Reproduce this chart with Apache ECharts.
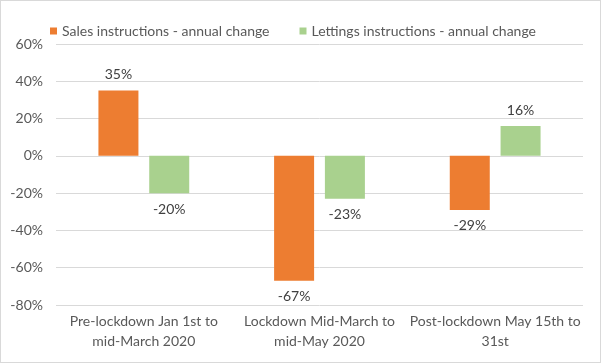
<!DOCTYPE html>
<html><head><meta charset="utf-8">
<script src="https://cdn.jsdelivr.net/npm/echarts@6/dist/echarts.min.js"></script>
<style>html,body{margin:0;padding:0;background:#fff}#c{width:599px;height:361px;border:1px solid #d9d9d9;}</style>
</head><body><div id="c"></div>
<script>
const categories = ["Pre-lockdown Jan 1st to\nmid-March 2020", "Lockdown Mid-March to\nmid-May 2020", "Post-lockdown May 15th to\n31st"];
const seriesNames = ["Sales instructions - annual change", "Lettings instructions - annual change"];
const salesValues = [35, -67, -29];
const lettingsValues = [-20, -23, 16];
const yTicks = {min: -80, max: 60, interval: 20};

const FONT = 'Lato';
const TXT = '#595959';
const chart = echarts.init(document.getElementById('c'));
const lbl = {show: true, formatter: p => p.value + '%', color: '#404040', fontFamily: FONT, fontSize: 14, distance: 9};
const mk = vals => vals.map(v => ({value: v, label: {position: v < 0 ? 'bottom' : 'top'}}));
chart.setOption({
  animation: false,
  textStyle: {fontFamily: FONT},
  legend: {top: 18, left: 44, itemWidth: 7, itemHeight: 7, itemGap: 30, icon: 'rect',
    textStyle: {color: TXT, fontFamily: FONT, fontSize: 14}, data: seriesNames},
  grid: {left: 55, right: 17, top: 43, bottom: 57},
  xAxis: {type: 'category', data: categories,
    axisLine: {show: false, onZero: false}, axisTick: {show: false},
    axisLabel: {interval: 0, color: TXT, fontFamily: FONT, fontSize: 14, margin: 6, lineHeight: 20}},
  yAxis: {type: 'value', min: yTicks.min, max: yTicks.max, interval: yTicks.interval,
    axisLabel: {formatter: '{value}%', color: TXT, fontFamily: FONT, fontSize: 14, margin: 13},
    splitLine: {lineStyle: {color: '#d9d9d9'}}, axisLine: {show: false}, axisTick: {show: false}},
  series: [
    {name: seriesNames[0], type: 'bar', data: mk(salesValues), barWidth: 40, barGap: '27%',
     itemStyle: {color: '#ED7D31'}, label: lbl},
    {name: seriesNames[1], type: 'bar', data: mk(lettingsValues), barWidth: 40,
     itemStyle: {color: '#A9D18E'}, label: lbl}
  ]
});
</script></body></html>
